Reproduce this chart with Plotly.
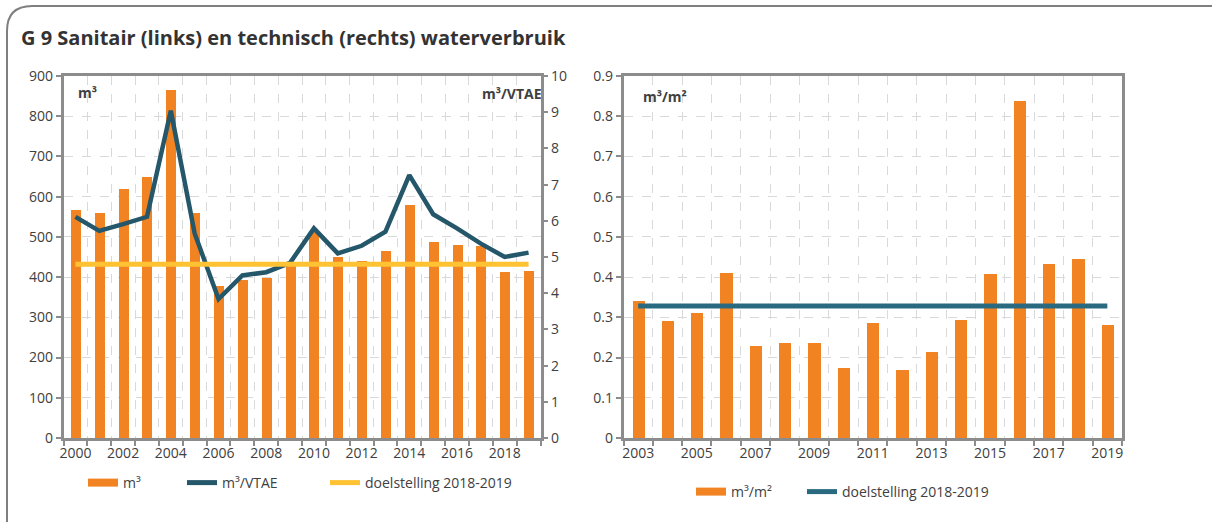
import plotly.graph_objects as go

# ---------------- data ----------------
years_left = list(range(2000, 2020))
m3 = [567, 559, 620, 649, 866, 559, 378, 393, 397, 430,
      513, 449, 440, 466, 579, 487, 480, 478, 412, 414]
m3_vtae = [6.11, 5.72, 5.91, 6.11, 9.04, 5.65, 3.84, 4.49, 4.58, 4.84,
           5.79, 5.10, 5.31, 5.70, 7.26, 6.18, 5.79, 5.37, 5.00, 5.12]
target_left = [4.8] * len(years_left)

years_right = list(range(2003, 2020))
m3_m2 = [0.340, 0.292, 0.310, 0.410, 0.229, 0.236, 0.235, 0.175, 0.286,
         0.169, 0.214, 0.293, 0.408, 0.838, 0.432, 0.444, 0.282]
target_right = [0.328] * len(years_right)

left_ticklabels = list(range(2000, 2020, 2))
right_ticklabels = list(range(2003, 2020, 2))

# ---------------- styles ----------------
W, H = 1212, 522
ORANGE = "#F28322"
TEAL = "#25576B"
TEAL2 = "#2A6A80"
YELLOW = "#FEC232"
AXIS = "#8C8C8C"
GRID = "#D9D9D9"
TXT = "#404040"
FONT = "Open Sans"


def px_x(x):
    return x / W


def px_y(y):
    return 1 - y / H


fig = go.Figure()

# left chart
fig.add_trace(go.Bar(x=years_left, y=m3, name="m³", marker_color=ORANGE,
                     width=0.42, xaxis="x", yaxis="y", showlegend=False))
fig.add_trace(go.Scatter(x=years_left, y=m3_vtae, name="m³/VTAE", mode="lines",
                         line=dict(color=TEAL, width=4.5), xaxis="x", yaxis="y2",
                         showlegend=False))
fig.add_trace(go.Scatter(x=years_left, y=target_left, name="doelstelling 2018-2019",
                         mode="lines", line=dict(color=YELLOW, width=5),
                         xaxis="x", yaxis="y2", showlegend=False))

# right chart
fig.add_trace(go.Bar(x=years_right, y=m3_m2, name="m³/m²", marker_color=ORANGE,
                     width=0.42, xaxis="x2", yaxis="y3", showlegend=False))
fig.add_trace(go.Scatter(x=years_right, y=target_right, name="doelstelling 2018-2019",
                         mode="lines", line=dict(color=TEAL2, width=5),
                         xaxis="x2", yaxis="y3", showlegend=False))

# legend entries (one legend box per entry, placed like the original)
legend_items = [
    ("m³", ORANGE, 8, "legend", 83, 483, "left"),
    ("m³/VTAE", TEAL, 5, "legend3", 182, 483, "left"),
    ("doelstelling 2018-2019", YELLOW, 5, "legend4", 325, 483, "left"),
    ("m³/m²", ORANGE, 8, "legend2", 691, 492, "right"),
    ("doelstelling 2018-2019", TEAL2, 5, "legend5", 802, 492, "right"),
]
legend_layout = {}
for name, color, w, lg, lx, ly, side in legend_items:
    fig.add_trace(go.Scatter(x=[None], y=[None], mode="lines", name=name,
                             line=dict(color=color, width=w), legend=lg,
                             xaxis="x" if side == "left" else "x2",
                             yaxis="y" if side == "left" else "y3"))
    legend_layout[lg] = dict(orientation="h", x=px_x(lx), xanchor="left",
                             y=px_y(ly), yanchor="middle",
                             font=dict(family=FONT, size=14, color=TXT),
                             bgcolor="rgba(0,0,0,0)", borderwidth=0)

tickfont = dict(family=FONT, size=14, color=TXT)

xcommon = dict(showline=True, linecolor=AXIS, linewidth=2.5, mirror=True,
               ticks="", showgrid=False, zeroline=False, tickfont=tickfont,
               automargin=False)
ycommon = dict(showline=True, linecolor=AXIS, linewidth=2.5, ticks="outside",
               ticklen=5, tickcolor=AXIS, tickwidth=1.5, zeroline=False,
               tickfont=tickfont, automargin=False)

LX0, LX1 = 63.5, 540.5
RX0, RX1 = 623.5, 1122
Y0, Y1 = 438, 76

fig.update_layout(
    template="none",
    width=W, height=H,
    margin=dict(l=0, r=0, t=0, b=0, pad=0, autoexpand=False),
    paper_bgcolor="white", plot_bgcolor="white",
    font=dict(family=FONT, color=TXT),
    bargap=0,
    hovermode=False,
    xaxis=dict(**xcommon, domain=[px_x(LX0), px_x(LX1)], anchor="y",
               range=[1999.5, 2019.5], tickmode="array", tickvals=left_ticklabels,
               ticktext=[str(v) for v in left_ticklabels],
               minor=dict(tick0=1999.5, dtick=1, ticks="outside", ticklen=5,
                          tickcolor=AXIS, tickwidth=1.5, showgrid=True,
                          gridcolor=GRID, griddash="dash", gridwidth=1)),
    yaxis=dict(**ycommon, domain=[px_y(Y0), px_y(Y1)], anchor="x",
               range=[0, 900], dtick=100, showgrid=True, gridcolor=GRID,
               griddash="dash", gridwidth=1),
    yaxis2=dict(**ycommon, overlaying="y", side="right", anchor="x",
                range=[0, 10], dtick=1, showgrid=False),
    xaxis2=dict(**xcommon, domain=[px_x(RX0), px_x(RX1)], anchor="y3",
                range=[2002.5, 2019.5], tickmode="array", tickvals=right_ticklabels,
                ticktext=[str(v) for v in right_ticklabels],
                minor=dict(tick0=2002.5, dtick=1, ticks="outside", ticklen=5,
                           tickcolor=AXIS, tickwidth=1.5, showgrid=True,
                           gridcolor=GRID, griddash="dash", gridwidth=1)),
    yaxis3=dict(**ycommon, domain=[px_y(Y0), px_y(Y1)], anchor="x2", mirror=True,
                range=[0, 0.9], dtick=0.1, showgrid=True, gridcolor=GRID,
                griddash="dash", gridwidth=1),
    **legend_layout,
)

# title and unit labels
fig.add_annotation(text="<b>G 9 Sanitair (links) en technisch (rechts) waterverbruik</b>",
                   xref="paper", yref="paper", x=px_x(19), y=px_y(38),
                   xanchor="left", yanchor="middle", showarrow=False,
                   font=dict(family=FONT, size=20, color="#333333"))
fig.add_annotation(text="<b>m³</b>", xref="paper", yref="paper", x=px_x(76), y=px_y(93),
                   xanchor="left", yanchor="middle", showarrow=False,
                   font=dict(family=FONT, size=14, color=TXT))
fig.add_annotation(text="<b>m³/VTAE</b>", xref="paper", yref="paper", x=px_x(544), y=px_y(94),
                   xanchor="right", yanchor="middle", showarrow=False,
                   font=dict(family=FONT, size=14, color=TXT))
fig.add_annotation(text="<b>m³/m²</b>", xref="paper", yref="paper", x=px_x(641), y=px_y(96),
                   xanchor="left", yanchor="middle", showarrow=False,
                   font=dict(family=FONT, size=14, color=TXT))

# outer frame (top and left edges with rounded corner)
path = (f"M {px_x(1212)},{px_y(6)} L {px_x(32)},{px_y(6)} "
        f"Q {px_x(7)},{px_y(6)} {px_x(7)},{px_y(31)} L {px_x(7)},{px_y(522)}")
fig.add_shape(type="path", path=path, xref="paper", yref="paper",
              line=dict(color="#7F7F7F", width=2))

post = (
    "document.documentElement.style.margin='0';"
    "document.documentElement.style.overflow='hidden';"
    "document.body.style.margin='0';"
    "document.body.style.overflow='hidden';"
    "var gd=document.getElementById('{plot_id}');"
    "gd.style.position='fixed';gd.style.left='0px';gd.style.top='0px';"
)

fig.write_html("out.html", config={"displayModeBar": False}, post_script=post)
